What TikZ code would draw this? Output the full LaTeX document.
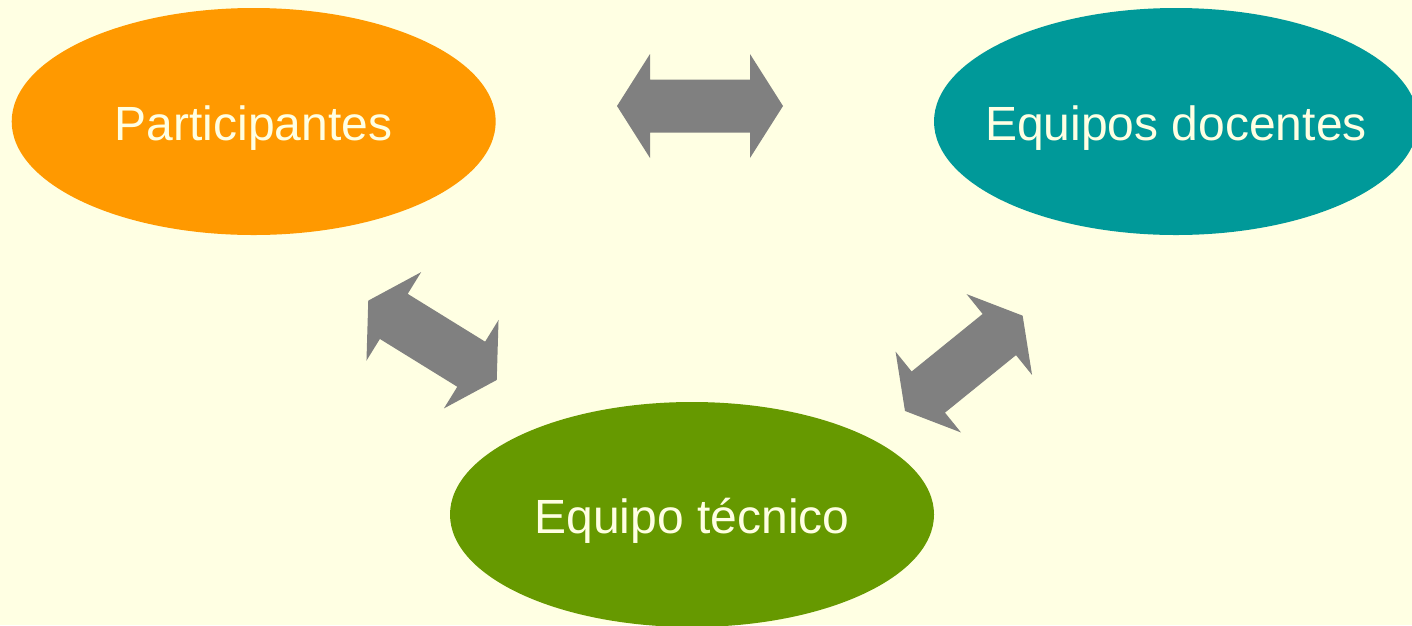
\documentclass[tikz,border=0pt]{standalone}
\usepackage{fontspec}
\setmainfont{Liberation Sans}
\usetikzlibrary{shapes.geometric}
\definecolor{bgyellow}{HTML}{FFFFE3}
\definecolor{txtcream}{HTML}{FFFFE3}
\definecolor{cOrange}{HTML}{FF9900}
\definecolor{cTeal}{HTML}{009999}
\definecolor{cGreen}{HTML}{669900}
\definecolor{arrowgray}{HTML}{808080}
\tikzset{
  blob/.style={ellipse, inner sep=0pt, draw=none, minimum width=484pt, minimum height=227pt},
  blobtext/.style={inner sep=0pt, text=txtcream, font=\fontsize{48}{58}\selectfont,
    text height=37pt, text depth=0pt},
  pics/dblarrow/.style args={#1/#2}{code={
    \fill[arrowgray] (-#1,0) -- (-#1+#2,-52) -- (-#1+#2,-26.5) -- (#1-#2,-26.5) -- (#1-#2,-52)
      -- (#1,0) -- (#1-#2,52) -- (#1-#2,26.5) -- (-#1+#2,26.5) -- (-#1+#2,52) -- cycle;
  }}
}
\begin{document}
\begin{tikzpicture}[x=1pt,y=-1pt]
\useasboundingbox (0,0) rectangle (1412,625);
\fill[bgyellow] (0,0) rectangle (1412,625);
\node[blob, fill=cOrange] (part) at (253.7,121.5) {};
\node[blob, fill=cTeal] (doc) at (1176,121.5) {};
\node[blob, fill=cGreen, minimum height=225pt] (tec) at (692,514.5) {};
\node[blobtext] (parttxt) at (part.center) {Participantes};
\node[blobtext] (doctxt) at (doc.center) {Equipos docentes};
\node[blobtext] (tectxt) at (tec.center) {Equipo técnico};
\pic (top) at (700,106) {dblarrow=83/33};
\pic[rotate=-31.7] (left) at (432.5,340.3) {dblarrow=75.5/30};
\pic[rotate=39] (right) at (963.8,363.3) {dblarrow=75.7/30};
\end{tikzpicture}
\end{document}
